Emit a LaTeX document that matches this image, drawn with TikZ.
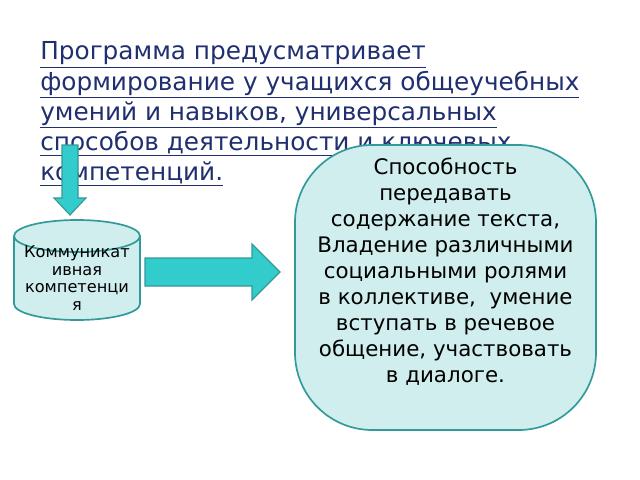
\documentclass[tikz,border=0pt]{standalone}
\usepackage{fontspec}
\setmainfont{DejaVu Sans}
\usetikzlibrary{positioning}
\definecolor{titleblue}{HTML}{1F2F6F}
\definecolor{boxfill}{HTML}{D0EEEE}
\definecolor{boxline}{HTML}{339999}
\definecolor{arrowfill}{HTML}{33CCCC}
\tikzset{
	titleline/.style={anchor=base west,inner sep=0pt,text=titleblue,font=\fontsize{17.6}{19}\selectfont},
	arrowbox/.style={draw=boxline,fill=arrowfill,thick},
}
\begin{document}
\begin{tikzpicture}[x=0.025cm,y=-0.025cm]
			\useasboundingbox (0,0) rectangle (640,480);
			
			%title.....................
			\node [titleline] (t1) at (40,60) {\underline{Программа предусматривает}};
			\node [titleline] (t2) at (40,90) {\underline{формирование у учащихся общеучебных}};
			\node [titleline] (t3) at (40,120) {\underline{умений и навыков, универсальных}};
			\node [titleline] (t4) at (40,150) {\underline{способов деятельности и ключевых}};
			\node [titleline] (t5) at (40,180) {\underline{компетенций.}};
			
			% skills box...................
			\draw [draw=boxline,fill=boxfill,very thick,rounded corners=55] (295,145) rectangle (596,430);
			\node [align=center,font=\fontsize{15.2}{18.5}\selectfont] (skills) at (445.5,272)
				{Способность\\передавать\\содержание текста,\\Владение различными\\социальными ролями\\в коллективе,\ \ умение\\вступать в речевое\\общение, участвовать\\в диалоге.};
			
			% cylinder....................
			\draw [draw=boxline,fill=boxfill,very thick] (14,236) -- (14,304) arc [start angle=180,end angle=0,x radius=63,y radius=16] -- (140,236);
			\draw [draw=boxline,fill=boxfill,very thick] (77,236) ellipse [x radius=63,y radius=16];
			\node [align=center,font=\fontsize{11.5}{12.5}\selectfont] (comp) at (77,278) {Коммуникат\\ивная\\компетенци\\я};
			
			% arrows.......................
			\draw [arrowbox] (62,145) -- (78,145) -- (78,198) -- (86,198) -- (70,215) -- (54,198) -- (62,198) -- cycle;
			\draw [arrowbox] (145,258) -- (252,258) -- (252,244) -- (280,272) -- (252,300) -- (252,286) -- (145,286) -- cycle;
		\end{tikzpicture}
\end{document}
